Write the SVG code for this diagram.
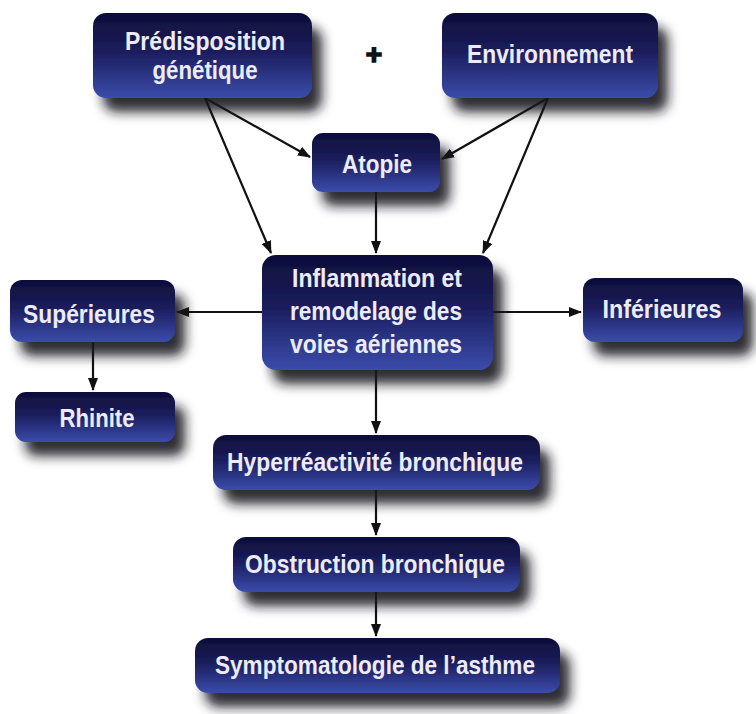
<svg xmlns="http://www.w3.org/2000/svg" width="756" height="714" viewBox="0 0 756 714">
  <defs>
    <linearGradient id="boxFill" x1="0" y1="0" x2="0" y2="1">
      <stop offset="0" stop-color="#0e0e3a"/>
      <stop offset="0.45" stop-color="#1b1d5c"/>
      <stop offset="1" stop-color="#3b4cab"/>
    </linearGradient>
    <filter id="shadow" x="-20%" y="-30%" width="160%" height="200%">
      <feDropShadow dx="10" dy="14" stdDeviation="6" flood-color="#15151e" flood-opacity="0.9"/>
    </filter>
    <marker id="arrow" viewBox="0 0 13 10" refX="12" refY="5" markerWidth="13" markerHeight="10" markerUnits="userSpaceOnUse" orient="auto">
      <path d="M0,0 L13,5 L0,10 Z" fill="#111"/>
    </marker>
  </defs>
  <style>
    .box { fill: url(#boxFill); filter: url(#shadow); }
    .lbl { font-family: "Liberation Sans", Arial, sans-serif; font-weight: bold; font-size: 26px; fill: #ecebf7; text-anchor: middle; }
    .edge { stroke: #111; stroke-width: 2.2; fill: none; marker-end: url(#arrow); }
  </style>
  <rect width="756" height="714" fill="#ffffff"/>

  <g id="connectors">
    <line class="edge" x1="205" y1="98" x2="310" y2="157"/>
    <line class="edge" x1="205" y1="98" x2="271" y2="253"/>
    <line class="edge" x1="548" y1="98" x2="442" y2="159"/>
    <line class="edge" x1="548" y1="98" x2="483" y2="253"/>
    <line class="edge" x1="376" y1="192" x2="376" y2="253"/>
    <line class="edge" x1="262" y1="312" x2="177" y2="312"/>
    <line class="edge" x1="493" y1="312" x2="581" y2="312"/>
    <line class="edge" x1="93" y1="342" x2="93" y2="390"/>
    <line class="edge" x1="376" y1="370" x2="376" y2="433"/>
    <line class="edge" x1="376" y1="490" x2="376" y2="535"/>
    <line class="edge" x1="376" y1="592" x2="376" y2="636"/>
  </g>

  <text x="374" y="64" font-family="Liberation Sans, Arial, sans-serif" font-weight="bold" font-size="28" text-anchor="middle" fill="#111" stroke="#111" stroke-width="1.6">+</text>

  <g id="predisposition">
    <rect class="box" x="93" y="13" width="219" height="85" rx="13"/>
    <text class="lbl" x="205" y="50" textLength="160" lengthAdjust="spacingAndGlyphs">Prédisposition</text>
    <text class="lbl" x="205" y="79" textLength="105" lengthAdjust="spacingAndGlyphs">génétique</text>
  </g>
  <g id="environnement">
    <rect class="box" x="442" y="13" width="216" height="85" rx="13"/>
    <text class="lbl" x="550" y="63" textLength="166" lengthAdjust="spacingAndGlyphs">Environnement</text>
  </g>
  <g id="atopie">
    <rect class="box" x="312" y="133" width="128" height="59" rx="11"/>
    <text class="lbl" x="377" y="173" textLength="70" lengthAdjust="spacingAndGlyphs">Atopie</text>
  </g>
  <g id="inflammation">
    <rect class="box" x="262" y="255" width="231" height="115" rx="14"/>
    <text class="lbl" x="377" y="287" textLength="170" lengthAdjust="spacingAndGlyphs">Inflammation et</text>
    <text class="lbl" x="376" y="320" textLength="172" lengthAdjust="spacingAndGlyphs">remodelage des</text>
    <text class="lbl" x="376" y="353" textLength="172" lengthAdjust="spacingAndGlyphs">voies aériennes</text>
  </g>
  <g id="superieures">
    <rect class="box" x="10" y="280" width="165" height="62" rx="12"/>
    <text class="lbl" x="89" y="323" textLength="132" lengthAdjust="spacingAndGlyphs">Supérieures</text>
  </g>
  <g id="rhinite">
    <rect class="box" x="15" y="392" width="160" height="50" rx="11"/>
    <text class="lbl" x="97" y="427" textLength="75" lengthAdjust="spacingAndGlyphs">Rhinite</text>
  </g>
  <g id="inferieures">
    <rect class="box" x="583" y="278" width="160" height="64" rx="12"/>
    <text class="lbl" x="662" y="318" textLength="119" lengthAdjust="spacingAndGlyphs">Inférieures</text>
  </g>
  <g id="hyperreactivite">
    <rect class="box" x="213" y="435" width="327" height="55" rx="13"/>
    <text class="lbl" x="375" y="471" textLength="296" lengthAdjust="spacingAndGlyphs">Hyperréactivité bronchique</text>
  </g>
  <g id="obstruction">
    <rect class="box" x="233" y="537" width="287" height="55" rx="13"/>
    <text class="lbl" x="375" y="573" textLength="260" lengthAdjust="spacingAndGlyphs">Obstruction bronchique</text>
  </g>
  <g id="symptomatologie">
    <rect class="box" x="195" y="638" width="365" height="55" rx="13"/>
    <text class="lbl" x="375" y="674" textLength="320" lengthAdjust="spacingAndGlyphs">Symptomatologie de l’asthme</text>
  </g>
</svg>
